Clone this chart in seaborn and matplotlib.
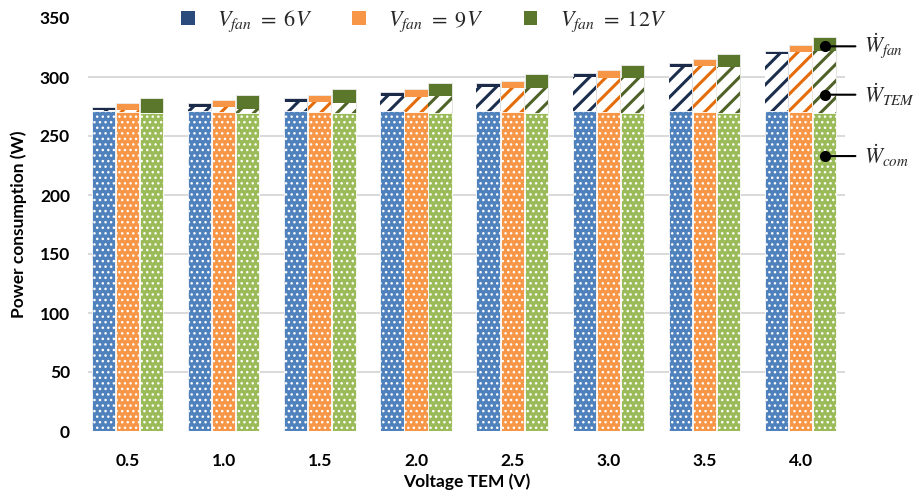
import numpy as np
import pandas as pd
import matplotlib
matplotlib.use("Agg")
import matplotlib.pyplot as plt
import seaborn as sns
from matplotlib.patches import Patch

# ---------------- data ----------------
voltages = ["0.5", "1.0", "1.5", "2.0", "2.5", "3.0", "3.5", "4.0"]
fan_levels = ["6V", "9V", "12V"]

com_6v = [271.0, 271.0, 271.0, 271.0, 271.0, 271.0, 271.0, 271.0]
tem_6v = [0.8, 3.7, 7.4, 13.1, 20.4, 29.4, 37.7, 48.5]
fan_6v = [3.0, 3.0, 3.5, 3.5, 3.2, 3.2, 2.9, 2.8]

com_9v = [270.0, 270.0, 270.0, 270.0, 270.0, 270.0, 270.0, 270.0]
tem_9v = [2.0, 4.3, 8.5, 13.4, 20.7, 29.2, 39.0, 50.9]
fan_9v = [6.2, 6.2, 6.2, 6.2, 6.2, 6.5, 6.5, 6.2]

com_12v = [269.5, 269.5, 269.5, 269.5, 269.5, 269.5, 269.5, 269.5]
tem_12v = [0.4, 3.1, 8.2, 14.2, 21.1, 29.4, 39.2, 52.8]
fan_12v = [12.0, 11.9, 11.9, 11.2, 11.9, 11.3, 11.0, 11.3]

legend_labels = [r"$V_{fan}\ =\ 6V$", r"$V_{fan}\ =\ 9V$", r"$V_{fan}\ =\ 12V$"]
component_labels = [r"$\dot{W}_{fan}$", r"$\dot{W}_{TEM}$", r"$\dot{W}_{com}$"]

# ---------------- styles ----------------
com_colors = ["#4F81BD", "#F79646", "#9BBB59"]
tem_colors = ["#1B2E4D", "#E46C0A", "#4F6228"]
fan_colors = ["#1C2B4A", "#F79646", "#5A772B"]
legend_colors = ["#2A4B7C", "#F79646", "#5A772B"]

rows = []
for lvl, com, tem, fan in zip(fan_levels,
                              [com_6v, com_9v, com_12v],
                              [tem_6v, tem_9v, tem_12v],
                              [fan_6v, fan_9v, fan_12v]):
    for v, c, t, f in zip(voltages, com, tem, fan):
        rows.append({"voltage": v, "fan": lvl, "com": c,
                     "mid": c + t, "top": c + t + f})
df = pd.DataFrame(rows)

sns.set_theme(style="white")
plt.rcParams["font.family"] = ["Lato", "DejaVu Sans"]
plt.rcParams["mathtext.fontset"] = "stix"
plt.rcParams["hatch.linewidth"] = 1.8

fig = plt.figure(figsize=(9.19, 4.98), dpi=100)
ax = fig.add_axes([88 / 919, 67 / 498, (845 - 88) / 919, (431 - 18) / 498])

layers = [("top", fan_colors), ("mid", tem_colors), ("com", com_colors)]
for col, pal in layers:
    n0 = len(ax.patches)
    sns.barplot(data=df, x="voltage", y=col, hue="fan", order=voltages,
                hue_order=fan_levels, palette=pal, saturation=1,
                width=0.75, gap=0.03, errorbar=None, legend=False, ax=ax)
    for p in ax.patches[n0:]:
        c = p.get_facecolor()
        if col == "top":
            p.set_edgecolor("#EDEDED")
            p.set_linewidth(0.6)
        elif col == "mid":
            p.set_facecolor("white")
            p.set_edgecolor(c)
            p.set_linewidth(0)
            p.set_hatch("//")
            if hasattr(p, "set_hatch_linewidth"):
                p.set_hatch_linewidth(2.2)
        else:
            p.set_edgecolor("white")
            p.set_linewidth(0.6)
            p.set_hatch("...")
            if hasattr(p, "set_hatch_linewidth"):
                p.set_hatch_linewidth(1.0)

ax.set_xlim(-0.41, 7.46)
ax.set_ylim(0, 350)
ax.set_yticks(np.arange(0, 351, 50))
ax.yaxis.grid(True, color="#D9D9D9", linewidth=1.4)
ax.set_axisbelow(True)
gl = ax.get_ygridlines()
gl[0].set_visible(False)
gl[-1].set_visible(False)
for s in ax.spines.values():
    s.set_visible(False)

ax.tick_params(axis="y", length=0, pad=13, labelsize=12.5, labelcolor="black")
ax.tick_params(axis="x", length=0, pad=16, labelsize=12.5, labelcolor="black")
for lab in ax.get_xticklabels() + ax.get_yticklabels():
    lab.set_fontweight("bold")

ax.set_xlabel("Voltage TEM (V)", fontsize=12.5, fontweight="bold",
              color="black", labelpad=3)
ax.set_ylabel("Power consumption (W)", fontsize=12.5, fontweight="bold",
              color="black", labelpad=9)

# legend
handles = [Patch(facecolor=c, edgecolor="none") for c in legend_colors]
fig.legend(handles, legend_labels, loc="center left",
           bbox_to_anchor=(181 / 919, 1 - 21 / 498), ncol=3, frameon=False,
           fontsize=16, handlelength=0.62, handleheight=0.62,
           handletextpad=1.0, columnspacing=1.8, borderpad=0,
           borderaxespad=0)

# component annotations on the last green bar
xg = 7.25
for lab, yv in zip(component_labels, [326.0, 285.0, 233.0]):
    ax.plot([xg], [yv], "o", color="black", ms=7, clip_on=False, zorder=5)
    ax.annotate(lab, xy=(xg, yv), xytext=(7.66, yv), textcoords="data",
                ha="left", va="center", fontsize=15.5, annotation_clip=False,
                arrowprops=dict(arrowstyle="-", color="black", lw=1.5,
                                shrinkA=4, shrinkB=0))

fig.savefig("out.png", dpi=100)
